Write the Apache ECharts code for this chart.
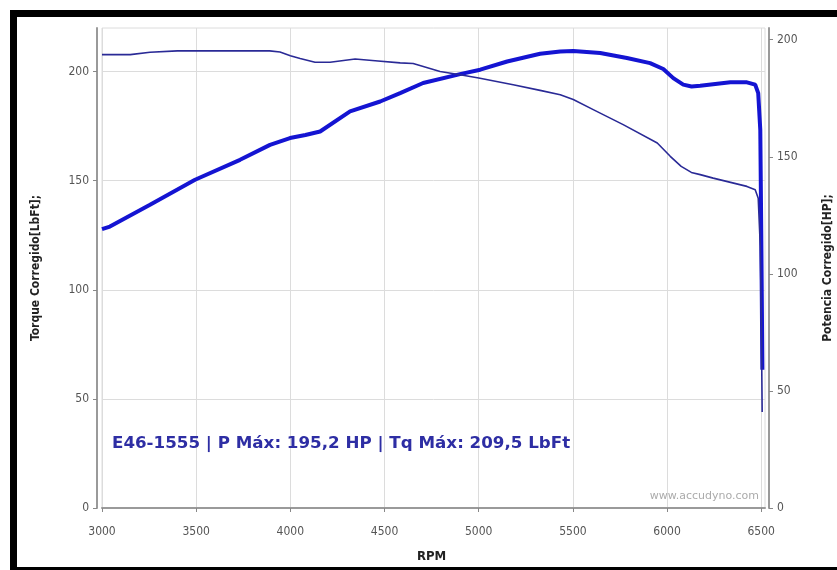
<!DOCTYPE html>
<html>
<head>
<meta charset="utf-8">
<script src="https://cdn.jsdelivr.net/npm/echarts@6/dist/echarts.min.js"></script>
<style>
html,body{margin:0;padding:0;background:#fff;}
#chart{width:837px;height:570px;}
</style>
</head>
<body>
<div id="chart"></div>
<script>
// ---- data ----
const rpmTicks = [3000, 3500, 4000, 4500, 5000, 5500, 6000, 6500];
const torqueTicks = [0, 50, 100, 150, 200];
const powerTicks = [0, 50, 100, 150, 200];

const torqueRpm = [3000,3150,3255,3400,3500,3700,3890,3945,4000,4052,4131,4211,4344,4450,4583,4652,4795,4901,5000,5183,5326,5433,5502,5608,5767,5948,6017,6075,6129,6176,6245,6424,6468,6484,6495,6500,6505];
const torqueLbFt = [207.8,207.8,208.9,209.5,209.5,209.5,209.5,209.0,207.3,206.0,204.3,204.3,205.8,205.0,204.0,203.7,200.1,198.6,197.1,194.0,191.4,189.4,187.2,182.6,175.7,167.3,161.2,156.6,153.8,152.8,151.2,147.4,145.9,142.0,120.0,90.0,44.0];

const powerRpm = [3000,3042,3255,3494,3733,3892,3998,4080,4158,4317,4477,4583,4705,4901,5008,5151,5326,5433,5502,5645,5787,5910,5980,6033,6086,6130,6176,6336,6424,6468,6484,6495,6500,6503,6506];
const powerHp = [119.1,120.2,129.5,140.2,148.7,155.1,158.0,159.3,160.8,169.4,173.6,177.2,181.5,185.3,187.2,190.7,194.0,195.0,195.2,194.3,192.2,190.0,187.5,183.6,180.8,180.0,180.3,181.8,181.8,180.8,177.2,161.5,118.8,90.0,59.0];

const annotation = 'E46-1555 | P Máx: 195,2 HP | Tq Máx: 209,5 LbFt';
const watermark = 'www.accudyno.com';
// --------------------------------------

const torqueData = torqueRpm.map((r, i) => [r, torqueLbFt[i]]);
const powerData = powerRpm.map((r, i) => [r, powerHp[i]]);

const tickFont = { fontFamily: '"DejaVu Sans Condensed", "DejaVu Sans", sans-serif', fontSize: 12, color: '#555' };
const nameFont = { fontFamily: '"DejaVu Sans Condensed", "DejaVu Sans", sans-serif', fontSize: 12, fontWeight: 'bold', color: '#222' };

const chart = echarts.init(document.getElementById('chart'), null, { renderer: 'canvas' });
chart.setOption({
  animation: false,
  backgroundColor: '#fff',
  grid: {
    left: 102, right: 72, top: 28, bottom: 62,
    outerBoundsMode: 'none', containLabel: false,
    show: true, borderColor: '#dcdcdc', borderWidth: 1, backgroundColor: '#fff'
  },
  xAxis: {
    type: 'value', min: 3000, max: 6520, interval: 500,
    offset: 6,
    name: 'RPM', nameLocation: 'middle', nameGap: 36,
    nameTextStyle: { ...nameFont, fontSize: 13, padding: [0, 4, 0, 0] },
    axisLine: { show: true, lineStyle: { color: '#9a9a9a', width: 2 } },
    axisTick: { show: true, length: 4, customValues: rpmTicks, lineStyle: { color: '#888' } },
    axisLabel: { customValues: rpmTicks, margin: 12, formatter: v => String(v), ...tickFont },
    splitLine: { show: true, lineStyle: { color: '#dcdcdc', width: 1 } }
  },
  yAxis: [
    {
      type: 'value', min: 0, max: 220, interval: 50, position: 'left', offset: 5,
      name: 'Torque Corregido[LbFt];', nameLocation: 'middle', nameRotate: 90, nameGap: 55, nameTextStyle: nameFont,
      axisLine: { show: true, lineStyle: { color: '#9a9a9a', width: 2 } },
      axisTick: { show: true, length: 4, customValues: torqueTicks, lineStyle: { color: '#888' } },
      axisLabel: { customValues: torqueTicks, margin: 8, ...tickFont },
      splitLine: { show: true, lineStyle: { color: '#dcdcdc', width: 1 } }
    },
    {
      type: 'value', min: 0, max: 205, interval: 50, position: 'right', offset: 4,
      name: 'Potencia Corregido[HP];', nameLocation: 'middle', nameRotate: 90, nameGap: 53, nameTextStyle: nameFont,
      axisLine: { show: true, lineStyle: { color: '#9a9a9a', width: 2 } },
      axisTick: { show: true, length: 4, customValues: powerTicks, lineStyle: { color: '#888' } },
      axisLabel: { customValues: powerTicks, margin: 8, ...tickFont },
      splitLine: { show: false }
    }
  ],
  series: [
    {
      name: 'Potencia', type: 'line', yAxisIndex: 1, data: powerData,
      showSymbol: false, smooth: false, z: 3,
      lineStyle: { color: '#1414d2', width: 4 }
    },
    {
      name: 'Torque', type: 'line', yAxisIndex: 0, data: torqueData,
      showSymbol: false, smooth: false, z: 4,
      lineStyle: { color: '#2a2a96', width: 1.6 }
    }
  ],
  graphic: [
    { type: 'rect', shape: { x: 10, y: 10, width: 827, height: 7 }, style: { fill: '#000' }, z: 100 },
    { type: 'rect', shape: { x: 10, y: 10, width: 7, height: 560 }, style: { fill: '#000' }, z: 100 },
    { type: 'rect', shape: { x: 10, y: 567, width: 827, height: 3 }, style: { fill: '#000' }, z: 100 },
    { type: 'text', x: 112, y: 444, z: 50,
      style: { text: annotation, fill: '#2e2ea4', font: 'bold 16.7px "DejaVu Sans", sans-serif', verticalAlign: 'middle', align: 'left' } },
    { type: 'text', x: 759, y: 496, z: 50,
      style: { text: watermark, fill: '#ababab', font: '11px "DejaVu Sans", sans-serif', verticalAlign: 'middle', align: 'right' } }
  ]
});
</script>
</body>
</html>
